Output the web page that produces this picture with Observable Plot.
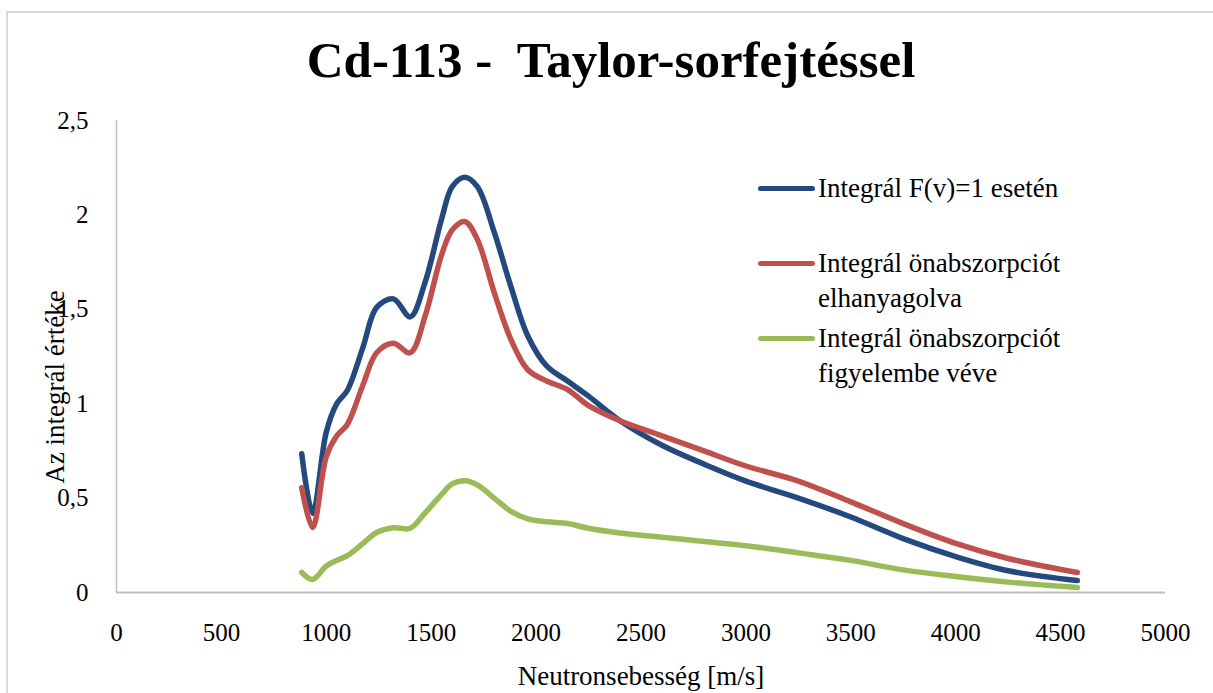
<!DOCTYPE html>
<html>
<head>
<meta charset="utf-8">
<script src="https://cdn.jsdelivr.net/npm/d3@7"></script>
<script src="https://cdn.jsdelivr.net/npm/@observablehq/plot@0.6"></script>
<style>
  html, body { margin: 0; padding: 0; background: #fff; overflow: hidden; }
  #wrap { position: relative; width: 1213px; height: 693px; overflow: hidden; font-family: "Liberation Serif", serif; color: #000; }
  #frame { position: absolute; left: 6px; top: 11px; width: 1300px; height: 800px; border: 2px solid #d9d9d9; box-sizing: border-box; }
  #chart { position: absolute; left: 0; top: 0; }
  #chart svg text { font-family: "Liberation Serif", serif; }
  #title { position: absolute; left: 0; width: 1222px; top: 30px; text-align: center; font-size: 51px; font-weight: bold; white-space: pre; line-height: 60px; }
  #ylabel { position: absolute; left: 55px; top: 387px; transform: translate(-50%, -50%) rotate(-90deg); font-size: 27px; white-space: nowrap; }
  #xlabel { position: absolute; left: 641px; top: 676px; transform: translate(-50%, -50%); font-size: 27px; white-space: nowrap; }
  #legend { position: absolute; left: 758px; top: 171px; font-size: 27px; line-height: 35px; }
  .entry { display: flex; align-items: flex-start; height: 75px; }
  .sw { width: 57px; height: 5px; border-radius: 3px; margin-top: 15px; margin-right: 3px; flex: none; }
</style>
</head>
<body>
<div id="wrap">
  <div id="frame"></div>
  <div id="chart"></div>
  <div id="title"></div>
  <div id="ylabel"></div>
  <div id="xlabel"></div>
  <div id="legend"></div>
</div>
<script>
const titleText = "Cd-113 -  Taylor-sorfejtéssel";
const xLabel = "Neutronsebesség [m/s]";
const yLabel = "Az integrál értéke";

const seriesNames = [
  "Integrál F(v)=1 esetén",
  "Integrál önabszorpciót elhanyagolva",
  "Integrál önabszorpciót figyelembe véve"
];
const legendLines = [
  ["Integrál F(v)=1 esetén"],
  ["Integrál önabszorpciót", "elhanyagolva"],
  ["Integrál önabszorpciót", "figyelembe véve"]
];
const seriesColors = ["#24497e", "#c0504d", "#9bbb59"];

const velocity = [883, 935, 1000, 1050, 1100, 1175, 1240, 1320, 1400, 1470, 1550, 1600, 1660, 1720, 1800, 1880, 1960, 2050, 2150, 2250, 2400, 2600, 2800, 3000, 3250, 3500, 3750, 4000, 4250, 4580];

const integralF1 = [0.735, 0.42, 0.85, 1.00, 1.07, 1.30, 1.51, 1.555, 1.46, 1.64, 1.98, 2.15, 2.20, 2.15, 1.91, 1.62, 1.36, 1.20, 1.12, 1.04, 0.91, 0.78, 0.68, 0.59, 0.50, 0.40, 0.285, 0.19, 0.115, 0.063];
const integralNeglected = [0.555, 0.344, 0.72, 0.83, 0.89, 1.10, 1.27, 1.32, 1.27, 1.46, 1.79, 1.92, 1.965, 1.87, 1.59, 1.34, 1.18, 1.12, 1.075, 0.99, 0.91, 0.83, 0.75, 0.67, 0.59, 0.48, 0.365, 0.26, 0.18, 0.106];
const integralConsidered = [0.106, 0.069, 0.14, 0.17, 0.195, 0.26, 0.318, 0.343, 0.34, 0.42, 0.52, 0.575, 0.592, 0.57, 0.50, 0.43, 0.39, 0.375, 0.365, 0.34, 0.315, 0.293, 0.27, 0.248, 0.21, 0.17, 0.12, 0.085, 0.055, 0.026];

const xTicks = [0, 500, 1000, 1500, 2000, 2500, 3000, 3500, 4000, 4500, 5000];
const yTicks = [0, 0.5, 1, 1.5, 2, 2.5];

const allSeries = [integralF1, integralNeglected, integralConsidered];
const rows = [];
allSeries.forEach((vals, i) => {
  vals.forEach((v, j) => rows.push({series: seriesNames[i], x: velocity[j], y: v}));
});

const fmtY = d => String(d).replace(".", ",");

const plot = Plot.plot({
  width: 1213,
  height: 693,
  marginLeft: 116,
  marginRight: 48,
  marginTop: 120,
  marginBottom: 101,
  style: {fontFamily: "'Liberation Serif', serif", fontSize: "25px", color: "#000", background: "transparent", overflow: "visible"},
  x: {domain: [0, 5000], ticks: xTicks, label: null},
  y: {domain: [0, 2.5], ticks: yTicks, label: null},
  color: {domain: seriesNames, range: seriesColors},
  marks: [
    Plot.axisX({ticks: xTicks, tickSize: 0, tickPadding: 31, label: null, tickFormat: d => String(d)}),
    Plot.axisY({ticks: yTicks, tickSize: 0, tickPadding: 28, label: null, tickFormat: fmtY}),
    Plot.ruleY([0], {stroke: "#bfbfbf", strokeWidth: 2}),
    Plot.ruleX([0], {stroke: "#bfbfbf", strokeWidth: 1.5}),
    Plot.line(rows, {x: "x", y: "y", z: "series", stroke: "series", strokeWidth: 5.5, curve: "catmull-rom", strokeLinecap: "round", strokeLinejoin: "round"})
  ]
});
document.getElementById("chart").appendChild(plot);

document.getElementById("title").textContent = titleText;
document.getElementById("ylabel").textContent = yLabel;
document.getElementById("xlabel").textContent = xLabel;

const legend = document.getElementById("legend");
legendLines.forEach((lines, i) => {
  const e = document.createElement("div");
  e.className = "entry";
  const sw = document.createElement("span");
  sw.className = "sw";
  sw.style.background = seriesColors[i];
  const t = document.createElement("div");
  t.innerHTML = lines.map(l => l.replace(/&/g, "&amp;").replace(/</g, "&lt;")).join("<br>");
  e.appendChild(sw);
  e.appendChild(t);
  legend.appendChild(e);
});
</script>
</body>
</html>
